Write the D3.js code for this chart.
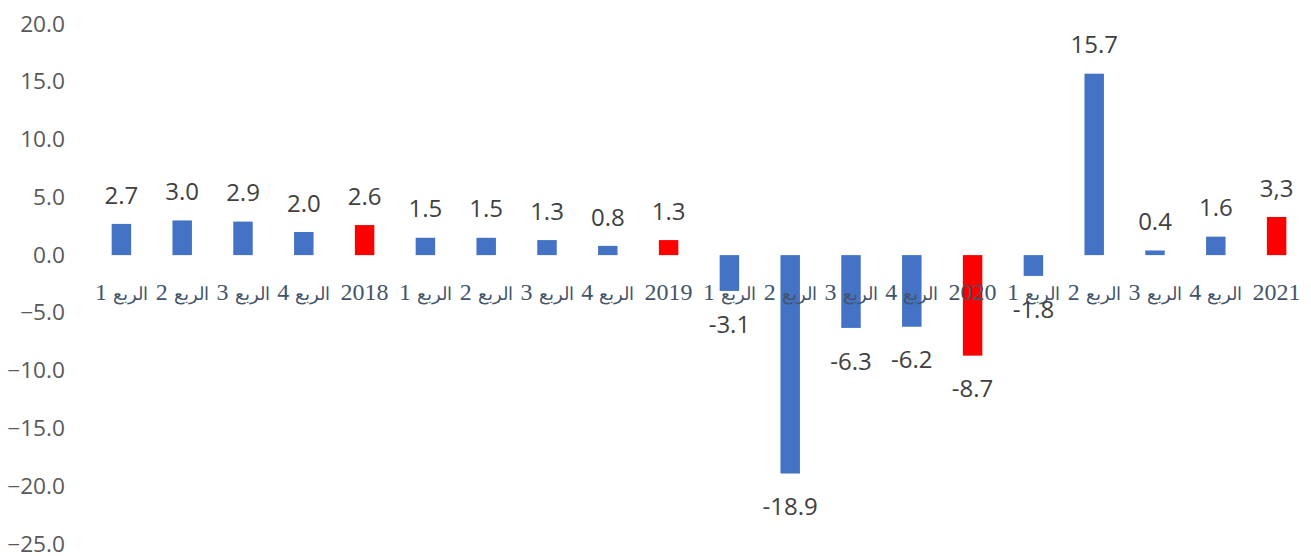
<!DOCTYPE html>
<html>
<head>
<meta charset="utf-8">
<script src="https://cdn.jsdelivr.net/npm/d3@7"></script>
<style>
  body { margin: 0; background: #fff; }
</style>
</head>
<body>
<div id="chart"></div>
<script>
var categories = ["الربع 1", "الربع 2", "الربع 3", "الربع 4", "2018",
    "الربع 1", "الربع 2", "الربع 3", "الربع 4", "2019",
    "الربع 1", "الربع 2", "الربع 3", "الربع 4", "2020",
    "الربع 1", "الربع 2", "الربع 3", "الربع 4", "2021"];
var values = [2.7, 3.0, 2.9, 2.0, 2.6,
    1.5, 1.5, 1.3, 0.8, 1.3,
    -3.1, -18.9, -6.3, -6.2, -8.7,
    -1.8, 15.7, 0.4, 1.6, 3.3];
var valueLabels = ["2.7", "3.0", "2.9", "2.0", "2.6",
    "1.5", "1.5", "1.3", "0.8", "1.3",
    "-3.1", "-18.9", "-6.3", "-6.2", "-8.7",
    "-1.8", "15.7", "0.4", "1.6", "3,3"];
var isYear = [0, 0, 0, 0, 1, 0, 0, 0, 0, 1, 0, 0, 0, 0, 1, 0, 0, 0, 0, 1];
var yTicks = [20, 15, 10, 5, 0, -5, -10, -15, -20, -25];

var width = 1311, height = 556;
var svg = d3.select("#chart").append("svg")
    .attr("width", width)
    .attr("height", height);

var x = d3.scaleBand()
    .domain(d3.range(categories.length))
    .range([91, 1307])
    .paddingInner(0.68)
    .paddingOuter(0.34);

var y = d3.scaleLinear()
    .domain([-25, 20])
    .range([544, 24]);

// y axis labels (slightly wide in the original)
svg.append("g").selectAll("text")
    .data(yTicks)
    .enter().append("text")
    .attr("transform", d => "translate(65," + y(d) + ") scale(1.08,1)")
    .attr("dy", "0.36em")
    .attr("text-anchor", "end")
    .attr("font-family", "'Open Sans', sans-serif")
    .attr("font-size", 21)
    .attr("fill", "#595959")
    .text(d => d3.format(".1f")(d));

// bars
svg.append("g").selectAll("rect")
    .data(values)
    .enter().append("rect")
    .attr("x", (d, i) => x(i))
    .attr("width", x.bandwidth())
    .attr("y", d => y(Math.max(0, d)))
    .attr("height", d => Math.abs(y(d) - y(0)))
    .attr("fill", (d, i) => isYear[i] ? "#FF0000" : "#4472C4");

// category labels: arabic word smaller than the digits
var cat = svg.append("g").selectAll("text")
    .data(categories)
    .enter().append("text")
    .attr("x", (d, i) => x(i) + x.bandwidth() / 2)
    .attr("y", 300)
    .attr("text-anchor", "middle")
    .attr("direction", "rtl")
    .attr("font-family", "'Liberation Serif', 'Times New Roman', serif")
    .attr("font-size", 24)
    .attr("fill", "#44546A");

cat.each(function (d) {
    var parts = d.split(" ");
    var t = d3.select(this);
    if (parts.length == 1) {
        t.text(d);
    } else {
        t.append("tspan").attr("font-size", 18).text(parts[0]);
        t.append("tspan").text(" " + parts[1]);
    }
});

// value labels
svg.append("g").selectAll("text")
    .data(values)
    .enter().append("text")
    .attr("x", (d, i) => x(i) + x.bandwidth() / 2)
    .attr("y", d => d >= 0 ? y(d) - 29 : y(d) + 33)
    .attr("dy", "0.36em")
    .attr("text-anchor", "middle")
    .attr("font-family", "'Open Sans', sans-serif")
    .attr("font-size", 24)
    .attr("fill", "#404040")
    .text((d, i) => valueLabels[i]);
</script>
</body>
</html>
